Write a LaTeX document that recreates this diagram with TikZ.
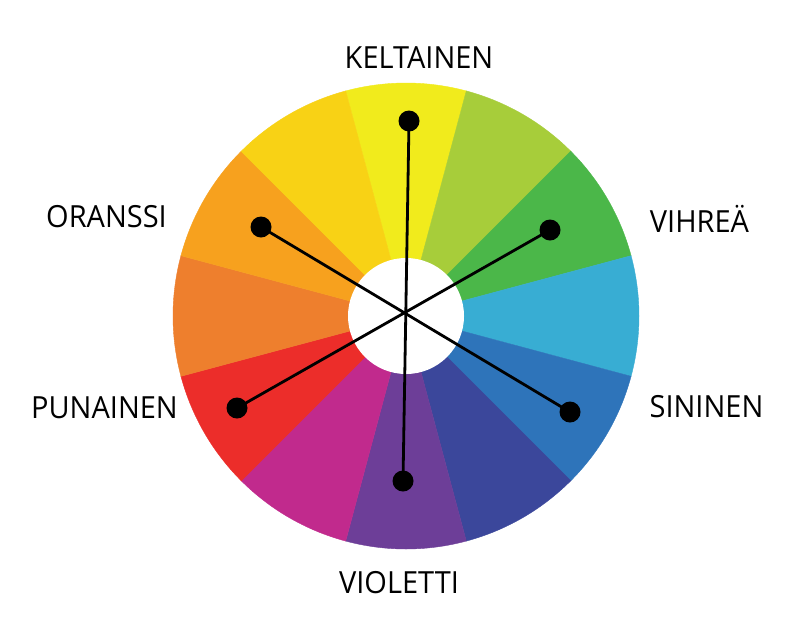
\documentclass[tikz,border=0pt]{standalone}
\usepackage{fontspec}
\setmainfont{Open Sans}
\definecolor{c0}{HTML}{F1EB1C}
\definecolor{c1}{HTML}{A7CD3A}
\definecolor{c2}{HTML}{4BB749}
\definecolor{c3}{HTML}{38ADD3}
\definecolor{c4}{HTML}{2E74BA}
\definecolor{c5}{HTML}{3B479B}
\definecolor{c6}{HTML}{6D3E98}
\definecolor{c7}{HTML}{C12A8D}
\definecolor{c8}{HTML}{EC2D2A}
\definecolor{c9}{HTML}{EE7F2D}
\definecolor{c10}{HTML}{F7A11E}
\definecolor{c11}{HTML}{F8D215}
\begin{document}
\begin{tikzpicture}[x=1pt,y=-1pt,
  dot/.style={circle,fill=black,inner sep=0pt,minimum size=21pt},
  spoke/.style={draw=black,line width=2.8pt},
  lbl/.style={anchor=base,inner sep=0pt,xscale=0.95,font=\fontsize{30.5}{31}\selectfont}]
\useasboundingbox (0,0) rectangle (800,638);
\fill[white] (0,0) rectangle (800,638);
\begin{scope}[shift={(406,316)},yscale=-1]
  \foreach \k in {0,...,11} {
    \pgfmathsetmacro{\a}{90-30*\k}
    \fill[c\k,draw=c\k,line width=0.4pt] (0,0) -- (\a-15:233) arc[start angle=\a-15,end angle=\a+15,radius=233] -- cycle;
  }
  \fill[white] (0,0) circle (58);
\end{scope}
\node[dot] (kel) at (409,121) {};
\node[dot] (vio) at (403,481) {};
\node[dot] (ora) at (261,227) {};
\node[dot] (sin) at (570,412) {};
\node[dot] (vih) at (550,230) {};
\node[dot] (pun) at (237,408) {};
\draw[spoke] (kel.center) -- (vio.center);
\draw[spoke] (ora.center) -- (sin.center);
\draw[spoke] (vih.center) -- (pun.center);
\node[lbl] (tkel) at (419,68) {KELTAINEN};
\node[lbl] (tora) at (106.5,227) {ORANSSI};
\node[lbl] (tvih) at (699.5,232) {VIHREÄ};
\node[lbl] (tpun) at (104.5,418) {PUNAINEN};
\node[lbl] (tsin) at (706.5,417) {SININEN};
\node[lbl] (tvio) at (399,593) {VIOLETTI};
\end{tikzpicture}
\end{document}
